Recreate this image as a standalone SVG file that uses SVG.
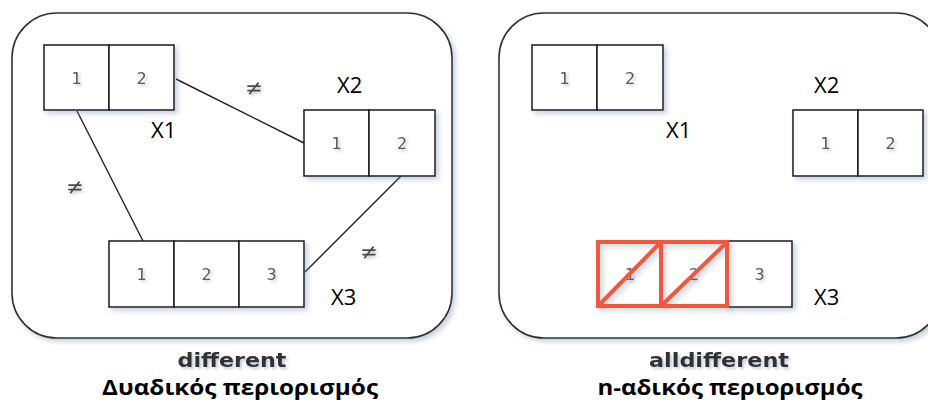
<svg xmlns="http://www.w3.org/2000/svg" width="928" height="403" viewBox="0 0 928 403">
  <defs>
    <filter id="soft" x="-20%" y="-20%" width="150%" height="150%">
      <feGaussianBlur in="SourceAlpha" stdDeviation="2.5"/>
      <feOffset dx="3" dy="3" result="b"/>
      <feFlood flood-color="#6a7a98" flood-opacity="0.35"/>
      <feComposite in2="b" operator="in"/>
      <feMerge><feMergeNode/><feMergeNode in="SourceGraphic"/></feMerge>
    </filter>
    <filter id="glow" x="-30%" y="-30%" width="170%" height="170%">
      <feGaussianBlur in="SourceAlpha" stdDeviation="1.5"/>
      <feOffset dx="2" dy="2" result="b"/>
      <feFlood flood-color="#7a88a8" flood-opacity="0.45"/>
      <feComposite in2="b" operator="in"/>
      <feMerge><feMergeNode/><feMergeNode in="SourceGraphic"/></feMerge>
    </filter>
  </defs>
  <style>
    .panel { fill: #ffffff; stroke: #333333; stroke-width: 1.6; }
    .cell { fill: #ffffff; stroke: #1a1a1a; stroke-width: 1.5; }
    .num { font-family: "DejaVu Sans", sans-serif; font-size: 16px; fill: #5a5a5a; text-anchor: middle; }
    .var { font-family: "Open Sans", "Noto Sans", sans-serif; font-size: 22px; fill: #000000; }
    .neq { font-family: "DejaVu Sans", sans-serif; font-size: 21px; fill: #4a4a4a; text-anchor: middle; }
    .edge { stroke: #222222; stroke-width: 1.4; fill: none; }
    .cross { fill: none; stroke: #f4573a; stroke-width: 4; }
    .title { font-family: "DejaVu Sans", sans-serif; font-weight: bold; font-size: 19px; fill: #333333; text-anchor: middle; }
    .caption { font-family: "Open Sans", "Noto Sans", sans-serif; font-weight: bold; font-size: 21px; fill: #000000; text-anchor: middle; }
  </style>

  <rect x="0" y="0" width="928" height="403" fill="#ffffff"/>

  <!-- Binary constraint panel -->
  <rect class="panel" x="12" y="13" width="440" height="325" rx="45" ry="45" filter="url(#soft)"/>
  <!-- n-ary constraint panel -->
  <rect class="panel" x="499" y="13" width="442" height="325" rx="45" ry="45" filter="url(#soft)"/>

  <!-- pairwise "different" edges -->
  <g id="connectors">
    <line class="edge" x1="176" y1="79" x2="304" y2="143"/>
    <line class="edge" x1="77" y1="111" x2="143" y2="241"/>
    <line class="edge" x1="401" y1="176" x2="305" y2="272"/>
    <text class="neq" x="254" y="95" filter="url(#glow)">≠</text>
    <text class="neq" x="75" y="194" filter="url(#glow)">≠</text>
    <text class="neq" x="369" y="259" filter="url(#glow)">≠</text>
  </g>

  <g id="left-x1">
    <g filter="url(#soft)">
      <rect class="cell" x="44" y="45" width="65" height="65"/>
      <rect class="cell" x="109" y="45" width="65" height="65"/>
    </g>
    <g filter="url(#glow)">
      <text class="num" x="76.5" y="84">1</text>
      <text class="num" x="141.5" y="84">2</text>
    </g>
    <text class="var" x="151" y="138">X1</text>
  </g>

  <g id="left-x2">
    <g filter="url(#soft)">
      <rect class="cell" x="304" y="110" width="65" height="66"/>
      <rect class="cell" x="369" y="110" width="66" height="66"/>
    </g>
    <g filter="url(#glow)">
      <text class="num" x="336.5" y="149">1</text>
      <text class="num" x="402" y="149">2</text>
    </g>
    <text class="var" x="337" y="93">X2</text>
  </g>

  <g id="left-x3">
    <g filter="url(#soft)">
      <rect class="cell" x="109" y="241" width="65" height="66"/>
      <rect class="cell" x="174" y="241" width="65" height="66"/>
      <rect class="cell" x="239" y="241" width="65" height="66"/>
    </g>
    <g filter="url(#glow)">
      <text class="num" x="141.5" y="280">1</text>
      <text class="num" x="206.5" y="280">2</text>
      <text class="num" x="271.5" y="280">3</text>
    </g>
    <text class="var" x="331" y="305">X3</text>
  </g>

  <g id="right-x1">
    <g filter="url(#soft)">
      <rect class="cell" x="532" y="45" width="65" height="65"/>
      <rect class="cell" x="597" y="45" width="66" height="65"/>
    </g>
    <g filter="url(#glow)">
      <text class="num" x="564.5" y="84">1</text>
      <text class="num" x="630" y="84">2</text>
    </g>
    <text class="var" x="666" y="138">X1</text>
  </g>

  <g id="right-x2">
    <g filter="url(#soft)">
      <rect class="cell" x="793" y="110" width="65" height="66"/>
      <rect class="cell" x="858" y="110" width="65" height="66"/>
    </g>
    <g filter="url(#glow)">
      <text class="num" x="825.5" y="149">1</text>
      <text class="num" x="890.5" y="149">2</text>
    </g>
    <text class="var" x="814" y="93">X2</text>
  </g>

  <g id="right-x3">
    <g filter="url(#soft)">
      <rect class="cell" x="727" y="241" width="65" height="66"/>
    </g>
    <g filter="url(#glow)">
      <text class="num" x="630" y="280">1</text>
      <text class="num" x="694" y="280">2</text>
      <text class="num" x="759.5" y="280">3</text>
    </g>
    <!-- values removed from the domain -->
    <g filter="url(#soft)">
      <rect class="cross" x="598" y="242" width="63" height="64"/>
      <rect class="cross" x="661" y="242" width="66" height="64"/>
      <line class="cross" x1="598" y1="306" x2="661" y2="242"/>
      <line class="cross" x1="661" y1="306" x2="727" y2="242"/>
    </g>
    <text class="var" x="814" y="305">X3</text>
  </g>

  <g id="captions">
    <text class="title" x="232" y="367" textLength="109" lengthAdjust="spacingAndGlyphs" filter="url(#glow)">different</text>
    <text class="caption" x="240" y="395" textLength="276" lengthAdjust="spacingAndGlyphs">Δυαδικός περιορισμός</text>
    <text class="title" x="719" y="367" textLength="140" lengthAdjust="spacingAndGlyphs" filter="url(#glow)">alldifferent</text>
    <text class="caption" x="730" y="395" textLength="265" lengthAdjust="spacingAndGlyphs">n-αδικός περιορισμός</text>
  </g>
</svg>
